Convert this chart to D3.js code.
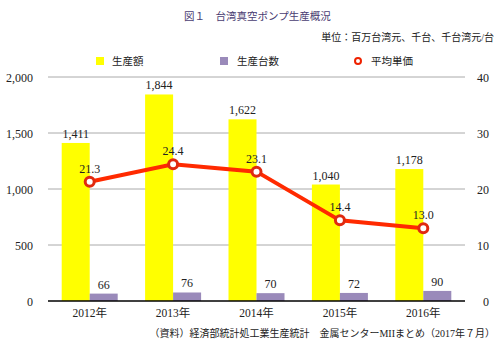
<!DOCTYPE html>
<html><head><meta charset="utf-8">
<script src="https://cdn.jsdelivr.net/npm/d3@7"></script>
<style>
body{margin:0;background:#fff;}
text{font-family:"Liberation Serif","Noto Sans CJK JP",serif;fill:#222;}
</style></head>
<body><svg id="c" width="504" height="348"></svg>
<script>
const years = ["2012年","2013年","2014年","2015年","2016年"];
const amount = [1411,1844,1622,1040,1178];
const units = [66,76,70,72,90];
const price = [21.3,24.4,23.1,14.4,13.0];
const leftTicks = [0,500,1000,1500,2000];
const rightTicks = [0,10,20,30,40];

const svg = d3.select("#c");
const x = d3.scaleBand().domain(years).range([48,465]).padding(0);
const yL = d3.scaleLinear().domain([0,2000]).range([301,77]);
const yR = d3.scaleLinear().domain([0,40]).range([301,77]);
const bw = 28;
const fmt = d3.format(",");

// title
svg.append("text").attr("x",184).attr("y",20).attr("font-size",10.5).style("fill","#4a3d72").text("図１　台湾真空ポンプ生産概況");
svg.append("text").attr("x",494).attr("y",41).attr("text-anchor","end").attr("font-size",10).text("単位：百万台湾元、千台、千台湾元/台");

// legend
const lg = svg.append("g");
lg.append("rect").attr("x",96).attr("y",57).attr("width",8).attr("height",8).attr("fill","#ffff00");
lg.append("text").attr("x",112).attr("y",65).attr("font-size",10.5).text("生産額");
lg.append("rect").attr("x",220).attr("y",57).attr("width",8).attr("height",8).attr("fill","#9a8aba");
lg.append("text").attr("x",237).attr("y",65).attr("font-size",10.5).text("生産台数");
lg.append("circle").attr("cx",358).attr("cy",61).attr("r",3).attr("fill","#fff").attr("stroke","#ee2200").attr("stroke-width",2);
lg.append("text").attr("x",371).attr("y",65).attr("font-size",10.5).text("平均単価");

// grid
svg.append("g").selectAll("line").data(leftTicks.slice(1)).join("line")
  .attr("x1",48).attr("x2",465).attr("y1",d=>yL(d)).attr("y2",d=>yL(d))
  .attr("stroke","#aaaaaa").attr("stroke-width",1);

// axes labels
const axL = svg.append("g").attr("transform","translate(33,0)")
  .call(d3.axisLeft(yL).tickValues(leftTicks).tickFormat(fmt).tickSize(0).tickPadding(0));
axL.select(".domain").remove();
axL.selectAll("text").attr("font-size",12).attr("font-family",null).attr("dy","0.35em");
const axR = svg.append("g").attr("transform","translate(489,0)")
  .call(d3.axisLeft(yR).tickValues(rightTicks).tickSize(0).tickPadding(0));
axR.select(".domain").remove();
axR.selectAll("text").attr("font-size",12).attr("font-family",null).attr("dy","0.35em");

// bars
svg.append("g").selectAll("rect").data(amount).join("rect")
  .attr("x",(d,i)=>x(years[i])+x.bandwidth()/2-bw).attr("width",bw)
  .attr("y",d=>yL(d)).attr("height",d=>yL(0)-yL(d)).attr("fill","#ffff00");
svg.append("g").selectAll("rect").data(units).join("rect")
  .attr("x",(d,i)=>x(years[i])+x.bandwidth()/2).attr("width",bw)
  .attr("y",d=>yL(d)).attr("height",d=>yL(0)-yL(d)).attr("fill","#9a8aba");

// bar labels
svg.append("g").selectAll("text").data(amount).join("text")
  .attr("x",(d,i)=>x(years[i])+x.bandwidth()/2-bw/2).attr("y",d=>yL(d)-5)
  .attr("text-anchor","middle").attr("font-size",12).text(d=>fmt(d));
svg.append("g").selectAll("text").data(units).join("text")
  .attr("x",(d,i)=>x(years[i])+x.bandwidth()/2+bw/2).attr("y",d=>yL(d)-5)
  .attr("text-anchor","middle").attr("font-size",12).text(d=>d);

// x axis line
svg.append("line").attr("x1",48).attr("x2",465).attr("y1",yL(0)).attr("y2",yL(0)).attr("stroke","#000").attr("stroke-width",1.5);
svg.append("g").selectAll("text").data(years).join("text")
  .attr("x",d=>x(d)+x.bandwidth()/2).attr("y",317).attr("text-anchor","middle").attr("font-size",11.5).text(d=>d);

// line
const line = d3.line().x((d,i)=>x(years[i])+x.bandwidth()/2).y(d=>yR(d));
svg.append("path").datum(price).attr("d",line).attr("fill","none").attr("stroke","#ff2a00").attr("stroke-width",4);
svg.append("g").selectAll("circle").data(price).join("circle")
  .attr("cx",(d,i)=>x(years[i])+x.bandwidth()/2).attr("cy",d=>yR(d)).attr("r",4.5)
  .attr("fill","#fff").attr("stroke","#e02a10").attr("stroke-width",3);
svg.append("g").selectAll("text").data(price).join("text")
  .attr("x",(d,i)=>x(years[i])+x.bandwidth()/2).attr("y",d=>yR(d)-9)
  .attr("text-anchor","middle").attr("font-size",12).text(d=>d.toFixed(1));

// source
svg.append("text").attr("x",495).attr("y",337).attr("text-anchor","end").attr("font-size",10)
  .text("（資料）経済部統計処工業生産統計　金属センターMIIまとめ（2017年７月）");
</script></body></html>
